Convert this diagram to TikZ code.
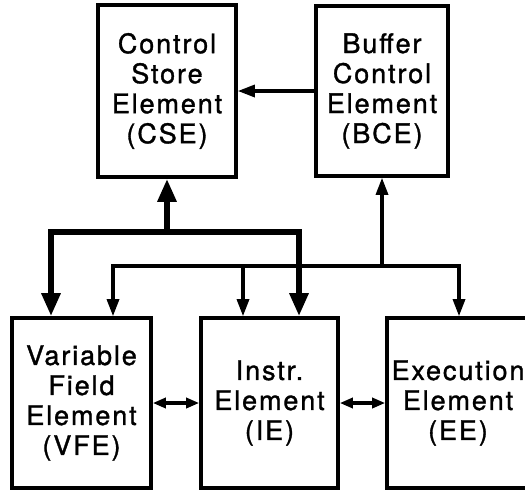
\documentclass[tikz,border=0pt]{standalone}
\usepackage{fontspec}
\setmainfont{TeX Gyre Heros}[LetterSpace=7, FakeBold=1.2]
\usetikzlibrary{arrows.meta}

\begin{document}
\begin{tikzpicture}[x=1pt,y=-1pt,
  box/.style={draw, line width=3.6pt, align=center, inner sep=0pt,
    font=\fontsize{27}{30}\selectfont},
  conn/.style={line width=3.2pt, line join=miter},
  heavy/.style={line width=6pt, line join=miter},
  tipthin/.tip={Triangle[length=17pt,width=12pt]},
  tipheavy/.tip={Triangle[length=23pt,width=18pt]},
  tipsmall/.tip={Triangle[length=13pt,width=10pt]}
]
\useasboundingbox (0,0) rectangle (525,491);
\clip (0,0) rectangle (525,491);

% element boxes
\node[box, minimum width=138pt, minimum height=172pt] (cse) at (167,91)
  {Control\\Store\\Element\\(CSE)};
\node[box, minimum width=132pt, minimum height=170pt] (bce) at (382,91)
  {Buffer\\Control\\Element\\(BCE)};
\node[box, minimum width=139pt, minimum height=170pt] (vfe) at (81.5,403)
  {Variable\\Field\\Element\\(VFE)};
\node[box, minimum width=137pt, minimum height=170pt] (ie) at (269.5,403)
  {Instr.\\Element\\(IE)};
\node[box, minimum width=142pt, minimum height=170pt] (ee) at (458,403)
  {Execution\\Element\\(EE)};

% bus corner points
\coordinate (tbL) at (51,232);
\coordinate (tbR) at (299,232);
\coordinate (nbL) at (113,266);
\coordinate (nbI) at (243,266);
\coordinate (nbR) at (459,266);

% buffer control to control store
\draw[conn, -{tipthin}] (bce.west) -- (cse.east);

% heavy bus: control store to VFE and IE
\draw[heavy, {tipheavy}-{tipheavy}] (tbL |- vfe.north) -- (tbL) -- (tbR) -- (tbR |- ie.north);
\draw[heavy, -{tipheavy}] (cse.south |- tbL) -- (cse.south);

% light bus: buffer control to VFE, IE and EE
\draw[conn, {tipthin}-{tipthin}] (nbL |- vfe.north) -- (nbL) -- (nbR) -- (nbR |- ee.north);
\draw[conn, -{tipthin}] (nbI) -- (nbI |- ie.north);
\draw[conn, -{tipthin}] (bce.south |- nbL) -- (bce.south);

% links between the lower elements
\draw[conn, {tipsmall}-{tipsmall}] (vfe.east) -- (ie.west);
\draw[conn, {tipsmall}-{tipsmall}] (ie.east) -- (ee.west);
\end{tikzpicture}
\end{document}
